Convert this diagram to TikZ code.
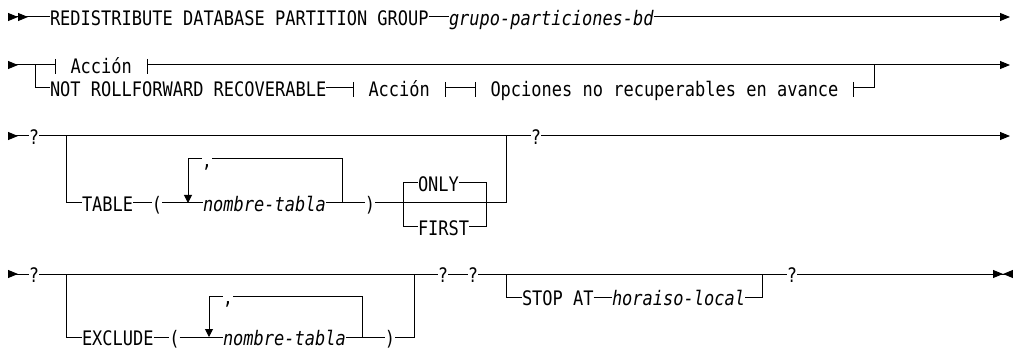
\documentclass[tikz,border=0pt]{standalone}
\usepackage{fontspec}
\newfontfamily\railfont[FakeStretch=0.85]{DejaVu Sans Mono}
\usetikzlibrary{arrows.meta}

\begin{document}
\begin{tikzpicture}[
    x=1pt, y=-1pt,
    line width=1pt,
    tri/.tip={Triangle[length=10pt,width=8pt]},
    rtri/.tip={Triangle[reversed,length=10pt,width=8pt]},
    dtri/.tip={Triangle[length=8pt,width=8pt]},
    every node/.style={
        inner sep=0pt,
        outer sep=0pt,
        anchor=west,
        text height=17pt,
        text depth=0pt,
        font=\railfont\fontsize{20}{20}\selectfont
    },
    var/.style={font=\railfont\fontsize{20}{20}\selectfont\itshape},
    frag/.style={inner xsep=15.5pt},
    sym/.style={anchor=center}
]
\useasboundingbox (0,0) rectangle (1013,350);

\coordinate (s1) at (8,17);
\coordinate (e1) at (1010,17);
\node (redist) at (50,17) {REDISTRIBUTE DATABASE PARTITION GROUP};
\node[var] (grupo) at (449,17) {grupo-particiones-bd};
\draw[{rtri[]rtri[]}-] (s1) -- (redist.west);
\draw (redist.east) -- (grupo.west);
\draw[-tri] (grupo.east) -- (e1);

\coordinate (s2) at (8,65);
\coordinate (e2) at (1010,65);
\coordinate (b2L) at (35,65);
\coordinate (b2R) at (874,65);
\node[frag] (acc1) at (55,65) {Acción};
\node (notrf) at (50,88) {NOT ROLLFORWARD RECOVERABLE};
\node[frag] (acc2) at (353,88) {Acción};
\node[frag] (opc) at (475,88) {Opciones no recuperables en avance};
\draw[rtri-] (s2) -- (acc1.west);
\draw[-tri] (acc1.east) -- (e2);
\draw (b2L) |- (notrf.west);
\draw (notrf.east) -- (acc2.west);
\draw (acc2.east) -- (opc.west);
\draw (opc.east) -| (b2R);
\foreach \n in {acc1,acc2,opc}
    \draw ([yshift=6pt]\n.west) -- ([yshift=-9pt]\n.west)
          ([yshift=6pt]\n.east) -- ([yshift=-9pt]\n.east);

\coordinate (s3) at (8,136);
\coordinate (e3) at (1010,136);
\coordinate (b3L) at (66,136);
\coordinate (b3R) at (506,136);
\coordinate (l1L) at (188,203);
\coordinate (l1R) at (342,203);
\coordinate (oL) at (403,203);
\coordinate (oR) at (486,203);
\node[sym] (q3a) at (34,136) {?};
\node[sym] (q3b) at (536,136) {?};
\node (table) at (82,203) {TABLE};
\node[sym] (lp1) at (157,203) {(};
\node[var] (nt1) at (203,203) {nombre-tabla};
\node[sym] (rp1) at (370,203) {)};
\node[sym] (cm1) at (207,159) {,};
\node (only) at (418,183) {ONLY};
\node (first) at (418,227) {FIRST};
\draw[rtri-] (s3) -- (q3a.west);
\draw (q3a.east) -- (q3b.west);
\draw[-tri] (q3b.east) -- (e3);
\draw (b3L) |- (table.west);
\draw (table.east) -- (lp1.west);
\draw (lp1.east) -- (nt1.west);
\draw (nt1.east) -- (rp1.west);
\draw (rp1.east) -| (b3R);
\draw[-dtri] (cm1.west) -| (l1L);
\draw (cm1.east) -| (l1R);
\draw (oL) |- (only.west) (oL) |- (first.west);
\draw (only.east) -| (oR) (first.east) -| (oR);

\coordinate (s4) at (8,274);
\coordinate (e4) at (1013,274);
\coordinate (b4L) at (66,274);
\coordinate (b4R) at (414,274);
\coordinate (b5L) at (506,274);
\coordinate (b5R) at (762,274);
\coordinate (l2L) at (209,337);
\coordinate (l2R) at (362,337);
\node[sym] (q4a) at (34,274) {?};
\node[sym] (q4b) at (443,274) {?};
\node[sym] (q4c) at (473,274) {?};
\node[sym] (q4d) at (792,274) {?};
\node (excl) at (82,337) {EXCLUDE};
\node[sym] (lp2) at (174.5,337) {(};
\node[var] (nt2) at (223,337) {nombre-tabla};
\node[sym] (rp2) at (390,337) {)};
\node[sym] (cm2) at (228,296) {,};
\node (stop) at (522,297) {STOP AT};
\node[var] (hora) at (612,297) {horaiso-local};
\draw[rtri-] (s4) -- (q4a.west);
\draw (q4a.east) -- (q4b.west);
\draw (q4b.east) -- (q4c.west);
\draw (q4c.east) -- (q4d.west);
\draw[-{tri[]rtri[]}] (q4d.east) -- (e4);
\draw (b4L) |- (excl.west);
\draw (excl.east) -- (lp2.west);
\draw (lp2.east) -- (nt2.west);
\draw (nt2.east) -- (rp2.west);
\draw (rp2.east) -| (b4R);
\draw[-dtri] (cm2.west) -| (l2L);
\draw (cm2.east) -| (l2R);
\draw (b5L) |- (stop.west);
\draw (stop.east) -- (hora.west);
\draw (hora.east) -| (b5R);
\end{tikzpicture}
\end{document}
